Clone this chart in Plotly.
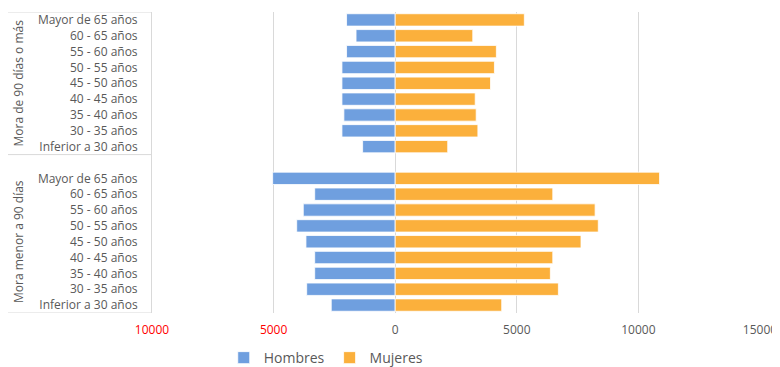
import plotly.graph_objects as go

# Age bands, listed from bottom to top of each block
edades = ['Inferior a 30 años', '30 - 35 años', '35 - 40 años', '40 - 45 años',
          '45 - 50 años', '50 - 55 años', '55 - 60 años', '60 - 65 años',
          'Mayor de 65 años']
grupos = ['Mora menor a 90 días', 'Mora de 90 días o más']

# Mora menor a 90 días
hombres_menor = [2630, 3640, 3310, 3310, 3670, 4050, 3780, 3310, 5040]
mujeres_menor = [4380, 6710, 6380, 6480, 7640, 8350, 8220, 6480, 10870]

# Mora de 90 días o más
hombres_mas = [1340, 2190, 2110, 2190, 2190, 2190, 2000, 1610, 2000]
mujeres_mas = [2160, 3400, 3330, 3290, 3920, 4080, 4160, 3190, 5310]

x_ticks = [-10000, -5000, 0, 5000, 10000, 15000]

# numeric row positions: bottom block 0..8, empty slot 9, top block 10..18
n = len(edades)
pos_menor = list(range(n))
pos_mas = [p + n + 1 for p in range(n)]
y_pos = pos_menor + pos_mas
y_txt = edades + edades

hombres = [-v for v in hombres_menor + hombres_mas]
mujeres = mujeres_menor + mujeres_mas

azul = '#6f9fdf'
naranja = '#fbb03c'
gris = '#595959'
linea = '#d9d9d9'

fig = go.Figure()
fig.add_trace(go.Bar(y=y_pos, x=hombres, orientation='h', name='Hombres',
                     marker=dict(color=azul, line=dict(color='white', width=0.8)),
                     width=0.78))
fig.add_trace(go.Bar(y=y_pos, x=mujeres, orientation='h', name='Mujeres',
                     marker=dict(color=naranja, line=dict(color='white', width=0.8)),
                     width=0.78))

# tick labels: negatives shown without sign, in red
tick_text = []
for v in x_ticks:
    if v < 0:
        tick_text.append("<span style='color:#ff0000'>%d</span>" % abs(v))
    else:
        tick_text.append(str(v))

# page body has an 8px margin, so the figure is a bit smaller than the window
fig.update_layout(
    barmode='relative',
    width=772, height=359,
    margin=dict(l=144, r=20, t=4, b=54),
    paper_bgcolor='white', plot_bgcolor='white',
    font=dict(family='Open Sans', size=12, color=gris),
    showlegend=True,
    legend=dict(orientation='h', x=0.118, xanchor='left', xref='paper',
                y=0.025, yanchor='middle', yref='container',
                font=dict(size=14, color=gris), traceorder='normal',
                itemwidth=30),
    xaxis=dict(range=[-10000, 15000], tickvals=x_ticks, ticktext=tick_text,
               showgrid=True, gridcolor=linea, gridwidth=1, zeroline=False,
               showline=False, ticks='', ticklabelstandoff=8,
               ticklabeloverflow='allow'),
    yaxis=dict(range=[-0.5, 2 * n + 0.5], tickvals=y_pos, ticktext=y_txt,
               showgrid=False, zeroline=False, showline=True, linecolor=linea,
               linewidth=1, ticks='', ticklabelstandoff=11),
)

# block dividers and rotated group titles
for yv in [-0.5, n + 0.5, 2 * n + 0.5]:
    fig.add_shape(type='line', xref='paper', yref='y', x0=-0.237, x1=0, y0=yv, y1=yv,
                  line=dict(color=linea, width=1))

centros = [(n - 1) / 2, n + 1 + (n - 1) / 2]
for g, c in zip(grupos, centros):
    fig.add_annotation(text=g, xref='paper', yref='y', x=-0.22, y=c, textangle=-90,
                       showarrow=False, xanchor='center', yanchor='middle',
                       font=dict(size=12, color=gris))

fig.write_html('out.html')
